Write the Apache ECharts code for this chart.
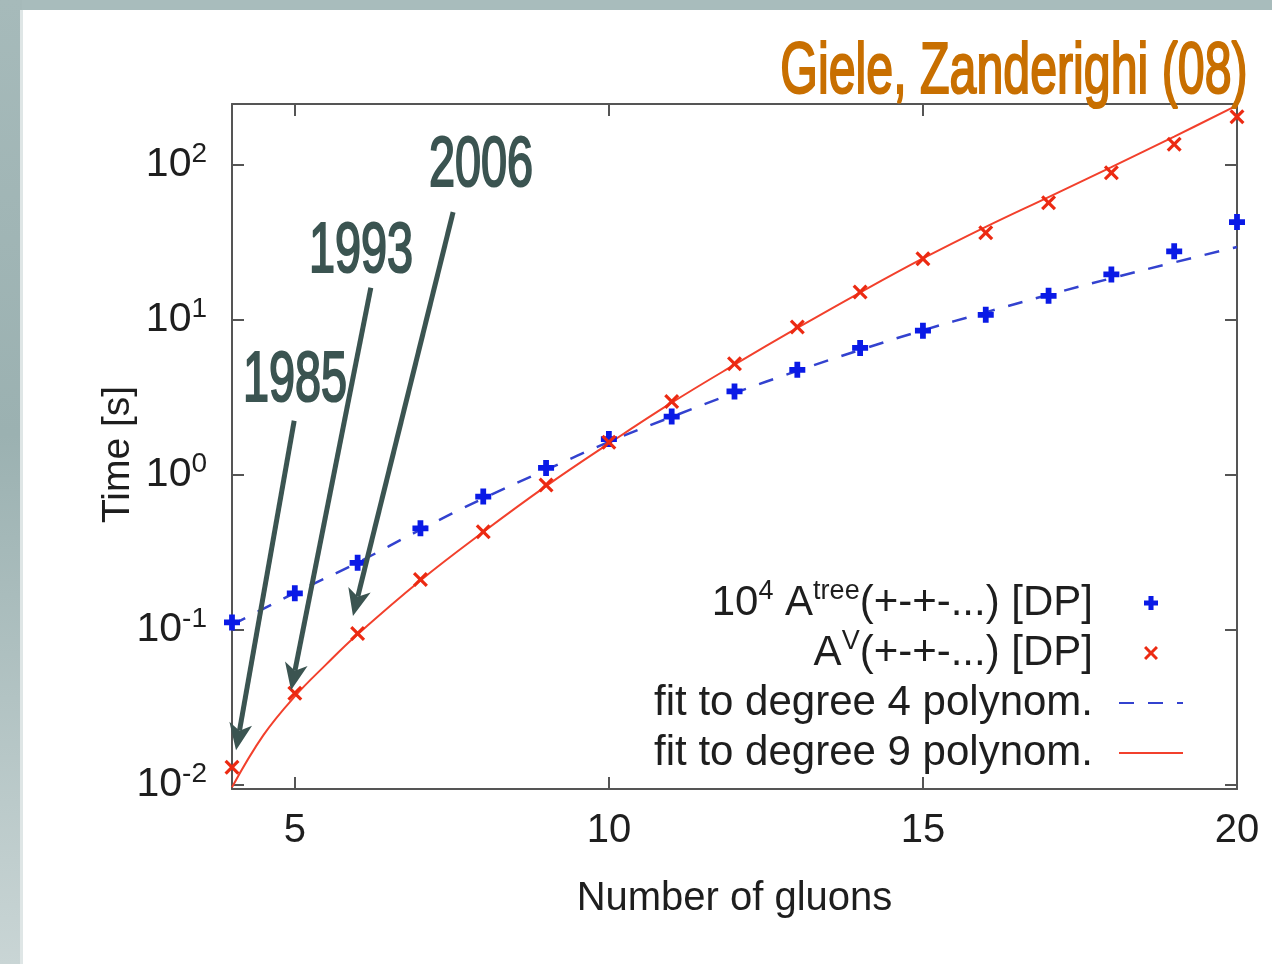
<!DOCTYPE html>
<html>
<head>
<meta charset="utf-8">
<script src="https://cdn.jsdelivr.net/npm/echarts@6/dist/echarts.min.js"></script>
<style>
html,body{margin:0;padding:0;background:#ffffff;}
#chart{width:1272px;height:964px;}
</style>
</head>
<body>
<div id="chart"></div>
<script>
// ---- data ----
const gluons = [4, 5, 6, 7, 8, 9, 10, 11, 12, 13, 14, 15, 16, 17, 18, 19, 20];
const treeTimes = [0.111, 0.171, 0.269, 0.449, 0.719, 1.10, 1.69, 2.36, 3.43, 4.73, 6.54, 8.46, 10.7, 14.2, 19.5, 27.5, 42.4];
const virtualTimes = [0.0129, 0.0387, 0.0942, 0.210, 0.427, 0.855, 1.61, 2.95, 5.18, 8.94, 15.0, 24.6, 36.2, 56.6, 88.3, 135, 203];
const fit4X = [4, 5, 6, 7, 8, 9, 10, 11, 12, 13, 14, 15, 16, 17, 18, 19, 20];
const fitDeg4 = [0.107, 0.172, 0.27, 0.44, 0.70, 1.07, 1.62, 2.35, 3.35, 4.65, 6.35, 8.5, 11.1, 14.4, 18.4, 23.3, 29.3];
const fit9X = [4, 4.5, 5, 5.5, 6, 7, 8, 9, 10, 11, 12, 13, 14, 15, 16, 17, 18, 19, 20];
const fitDeg9 = [0.0096, 0.0208, 0.037, 0.0595, 0.093, 0.207, 0.425, 0.84, 1.58, 2.9, 5.1, 8.8, 14.9, 24.7, 39.5, 61.5, 96, 151, 240];
const xTickValues = [5, 10, 15, 20];
const seriesNames = ['tree', 'virtual', 'fit4', 'fit9'];
const legendLabels = [
  '10{sup|4} A{sup|tree}(+-+-...) [DP]',
  'A{sup|V}(+-+-...) [DP]',
  'fit to degree 4 polynom.',
  'fit to degree 9 polynom.'
];
const yearLabels = ['1985', '1993', '2006'];
// arrow start / tip in data coordinates (gluons, seconds)
const arrowFrom = [[4.99, 2.22], [6.21, 16.0], [7.52, 49.2]];
const arrowTo = [[4.064, 0.0166], [4.94, 0.0405], [5.926, 0.122]];
const citation = 'Giele, Zanderighi (08)';
const xName = 'Number of gluons';
const yName = 'Time [s]';

// ---- chart ----
const yMin = 0.00935, yMax = 245;
const zip = (xs, ys) => xs.map((x, i) => [x, ys[i]]);
const plusPath = 'path://M3.2,0 L6.8,0 L6.8,3.2 L10,3.2 L10,6.8 L6.8,6.8 L6.8,10 L3.2,10 L3.2,6.8 L0,6.8 L0,3.2 L3.2,3.2 Z';
const crossPath = 'path://M0,1.5 L1.5,0 L5,3.5 L8.5,0 L10,1.5 L6.5,5 L10,8.5 L8.5,10 L5,6.5 L1.5,10 L0,8.5 L3.5,5 Z';
const axisColor = '#555555';
const textColor = '#1e1e1e';
const FONT = '"Liberation Sans", Arial, Helvetica, sans-serif';

const chart = echarts.init(document.getElementById('chart'), null, {renderer: 'canvas'});

function supFormatter(v) {
  const e = Math.log10(v);
  const r = Math.round(e);
  if (Math.abs(e - r) > 1e-6) return '';
  return '10{sup|' + r + '}';
}

const hiddenSymbol = {opacity: 0};
const option = {
  animation: false,
  backgroundColor: '#ffffff',
  grid: {left: 232, right: 35, top: 104, bottom: 175, containLabel: false, outerBoundsMode: 'none'},
  legend: {
    data: [
      {name: 'tree'},
      {name: 'virtual'},
      {name: 'fit4', itemStyle: hiddenSymbol},
      {name: 'fit9', itemStyle: hiddenSymbol}
    ],
    orient: 'vertical',
    align: 'right',
    right: 83,
    top: 573,
    itemWidth: 64,
    itemHeight: 14,
    itemGap: 0,
    formatter: name => legendLabels[seriesNames.indexOf(name)] + '{g| }',
    textStyle: {
      fontFamily: FONT, fontSize: 42, color: textColor, lineHeight: 50,
      rich: {
        sup: {fontFamily: FONT, fontSize: 27, color: textColor, verticalAlign: 'top', lineHeight: 50},
        g: {width: 21, fontSize: 10}
      }
    }
  },
  xAxis: [{
    type: 'value', min: 4, max: 20, position: 'bottom',
    name: xName, nameLocation: 'middle', nameGap: 90,
    nameTextStyle: {fontFamily: FONT, fontSize: 40, color: textColor},
    axisLine: {show: true, onZero: false, lineStyle: {color: axisColor, width: 2}},
    axisTick: {show: true, inside: true, length: 12, customValues: xTickValues, lineStyle: {color: axisColor, width: 2}},
    axisLabel: {show: true, customValues: xTickValues, margin: 22, fontFamily: FONT, fontSize: 40, color: textColor},
    splitLine: {show: false}
  }, {
    type: 'value', min: 4, max: 20, position: 'top',
    axisLine: {show: true, onZero: false, lineStyle: {color: axisColor, width: 2}},
    axisTick: {show: true, inside: true, length: 12, customValues: xTickValues, lineStyle: {color: axisColor, width: 2}},
    axisLabel: {show: false},
    splitLine: {show: false}
  }],
  yAxis: [{
    type: 'log', logBase: 10, min: yMin, max: yMax, position: 'left',
    name: yName, nameLocation: 'middle', nameGap: 94, nameRotate: 90, nameMoveOverlap: false,
    nameTextStyle: {fontFamily: FONT, fontSize: 39, color: textColor, padding: [0, 16, 0, 0]},
    axisLine: {show: true, onZero: false, lineStyle: {color: axisColor, width: 2}},
    axisTick: {show: true, inside: true, length: 12, lineStyle: {color: axisColor, width: 2}},
    axisLabel: {
      show: true, margin: 25, formatter: supFormatter,
      fontFamily: FONT, fontSize: 41, color: textColor, lineHeight: 48,
      showMinLabel: true, showMaxLabel: true,
      rich: {sup: {fontFamily: FONT, fontSize: 28, color: textColor, verticalAlign: 'top', lineHeight: 48}}
    },
    splitLine: {show: false}
  }, {
    type: 'log', logBase: 10, min: yMin, max: yMax, position: 'right',
    axisLine: {show: true, onZero: false, lineStyle: {color: axisColor, width: 2}},
    axisTick: {show: true, inside: true, length: 12, lineStyle: {color: axisColor, width: 2}},
    axisLabel: {show: false},
    splitLine: {show: false}
  }],
  series: [{
    name: 'fit4', type: 'line', data: zip(fit4X, fitDeg4), smooth: true,
    symbol: 'none', showSymbol: false, z: 2,
    lineStyle: {color: '#3342cf', width: 2.5, type: [15, 14]},
    itemStyle: {color: '#3342cf'}
  }, {
    name: 'fit9', type: 'line', data: zip(fit9X, fitDeg9), smooth: 0.4,
    symbol: 'none', showSymbol: false, z: 2,
    lineStyle: {color: '#f2402c', width: 2},
    itemStyle: {color: '#f2402c'}
  }, {
    name: 'tree', type: 'scatter', data: zip(gluons, treeTimes),
    symbol: plusPath, symbolSize: 16, z: 3,
    itemStyle: {color: '#0a1ae6', opacity: 1}
  }, {
    name: 'virtual', type: 'scatter', data: zip(gluons, virtualTimes),
    symbol: crossPath, symbolSize: 15, z: 3,
    itemStyle: {color: '#ec2a12', opacity: 1}
  }]
};
chart.setOption(option);

// ---- annotations (slide frame, years, arrows, citation) ----
const annColor = '#3b5451';
const elements = [
  {type: 'rect', shape: {x: 0, y: 0, width: 1272, height: 10}, style: {fill: '#a8bcbc'}, z: -5, silent: true},
  {type: 'rect', shape: {x: 0, y: 0, width: 22, height: 964}, silent: true, z: -5,
   style: {fill: new echarts.graphic.LinearGradient(0, 0, 0, 1, [
     {offset: 0, color: '#a6baba'}, {offset: 0.45, color: '#9bb1b1'}, {offset: 1, color: '#c9d5d5'}])}},
  {type: 'rect', shape: {x: 20, y: 10, width: 3, height: 954}, style: {fill: '#dfe6e6'}, z: -5, silent: true}
];
const yearCenters = [[295, 381], [361, 252], [481, 166]];
yearLabels.forEach((t, i) => {
  elements.push({
    type: 'text', x: yearCenters[i][0], y: yearCenters[i][1], scaleX: 0.66, silent: true, z: 20,
    style: {text: t, fill: annColor, stroke: annColor, lineWidth: 2.2,
            font: '71px "Liberation Sans", Arial, sans-serif', align: 'center', verticalAlign: 'middle'}
  });
  const p0 = chart.convertToPixel({xAxisIndex: 0, yAxisIndex: 0}, arrowFrom[i]);
  const p1 = chart.convertToPixel({xAxisIndex: 0, yAxisIndex: 0}, arrowTo[i]);
  const dx = p1[0] - p0[0], dy = p1[1] - p0[1];
  const len = Math.hypot(dx, dy);
  const ux = dx / len, uy = dy / len, nx = -uy, ny = ux;
  const L = 27, W = 11.5, notch = 7;
  const base = [p1[0] - ux * (L - notch), p1[1] - uy * (L - notch)];
  elements.push({
    type: 'line', silent: true, z: 19,
    shape: {x1: p0[0], y1: p0[1], x2: base[0], y2: base[1]},
    style: {stroke: annColor, lineWidth: 5, lineCap: 'butt'}
  });
  elements.push({
    type: 'polygon', silent: true, z: 19,
    shape: {points: [
      [p1[0], p1[1]],
      [p1[0] - ux * L + nx * W, p1[1] - uy * L + ny * W],
      [base[0], base[1]],
      [p1[0] - ux * L - nx * W, p1[1] - uy * L - ny * W]
    ]},
    style: {fill: annColor}
  });
});
elements.push({
  type: 'text', x: 1014, y: 73, scaleX: 0.662, silent: true, z: 20,
  style: {text: citation, fill: '#c86f00', stroke: '#c86f00', lineWidth: 2.2,
          font: '73px "Liberation Sans", Arial, sans-serif', align: 'center', verticalAlign: 'middle'}
});
chart.setOption({graphic: {elements: elements}});
</script>
</body>
</html>
